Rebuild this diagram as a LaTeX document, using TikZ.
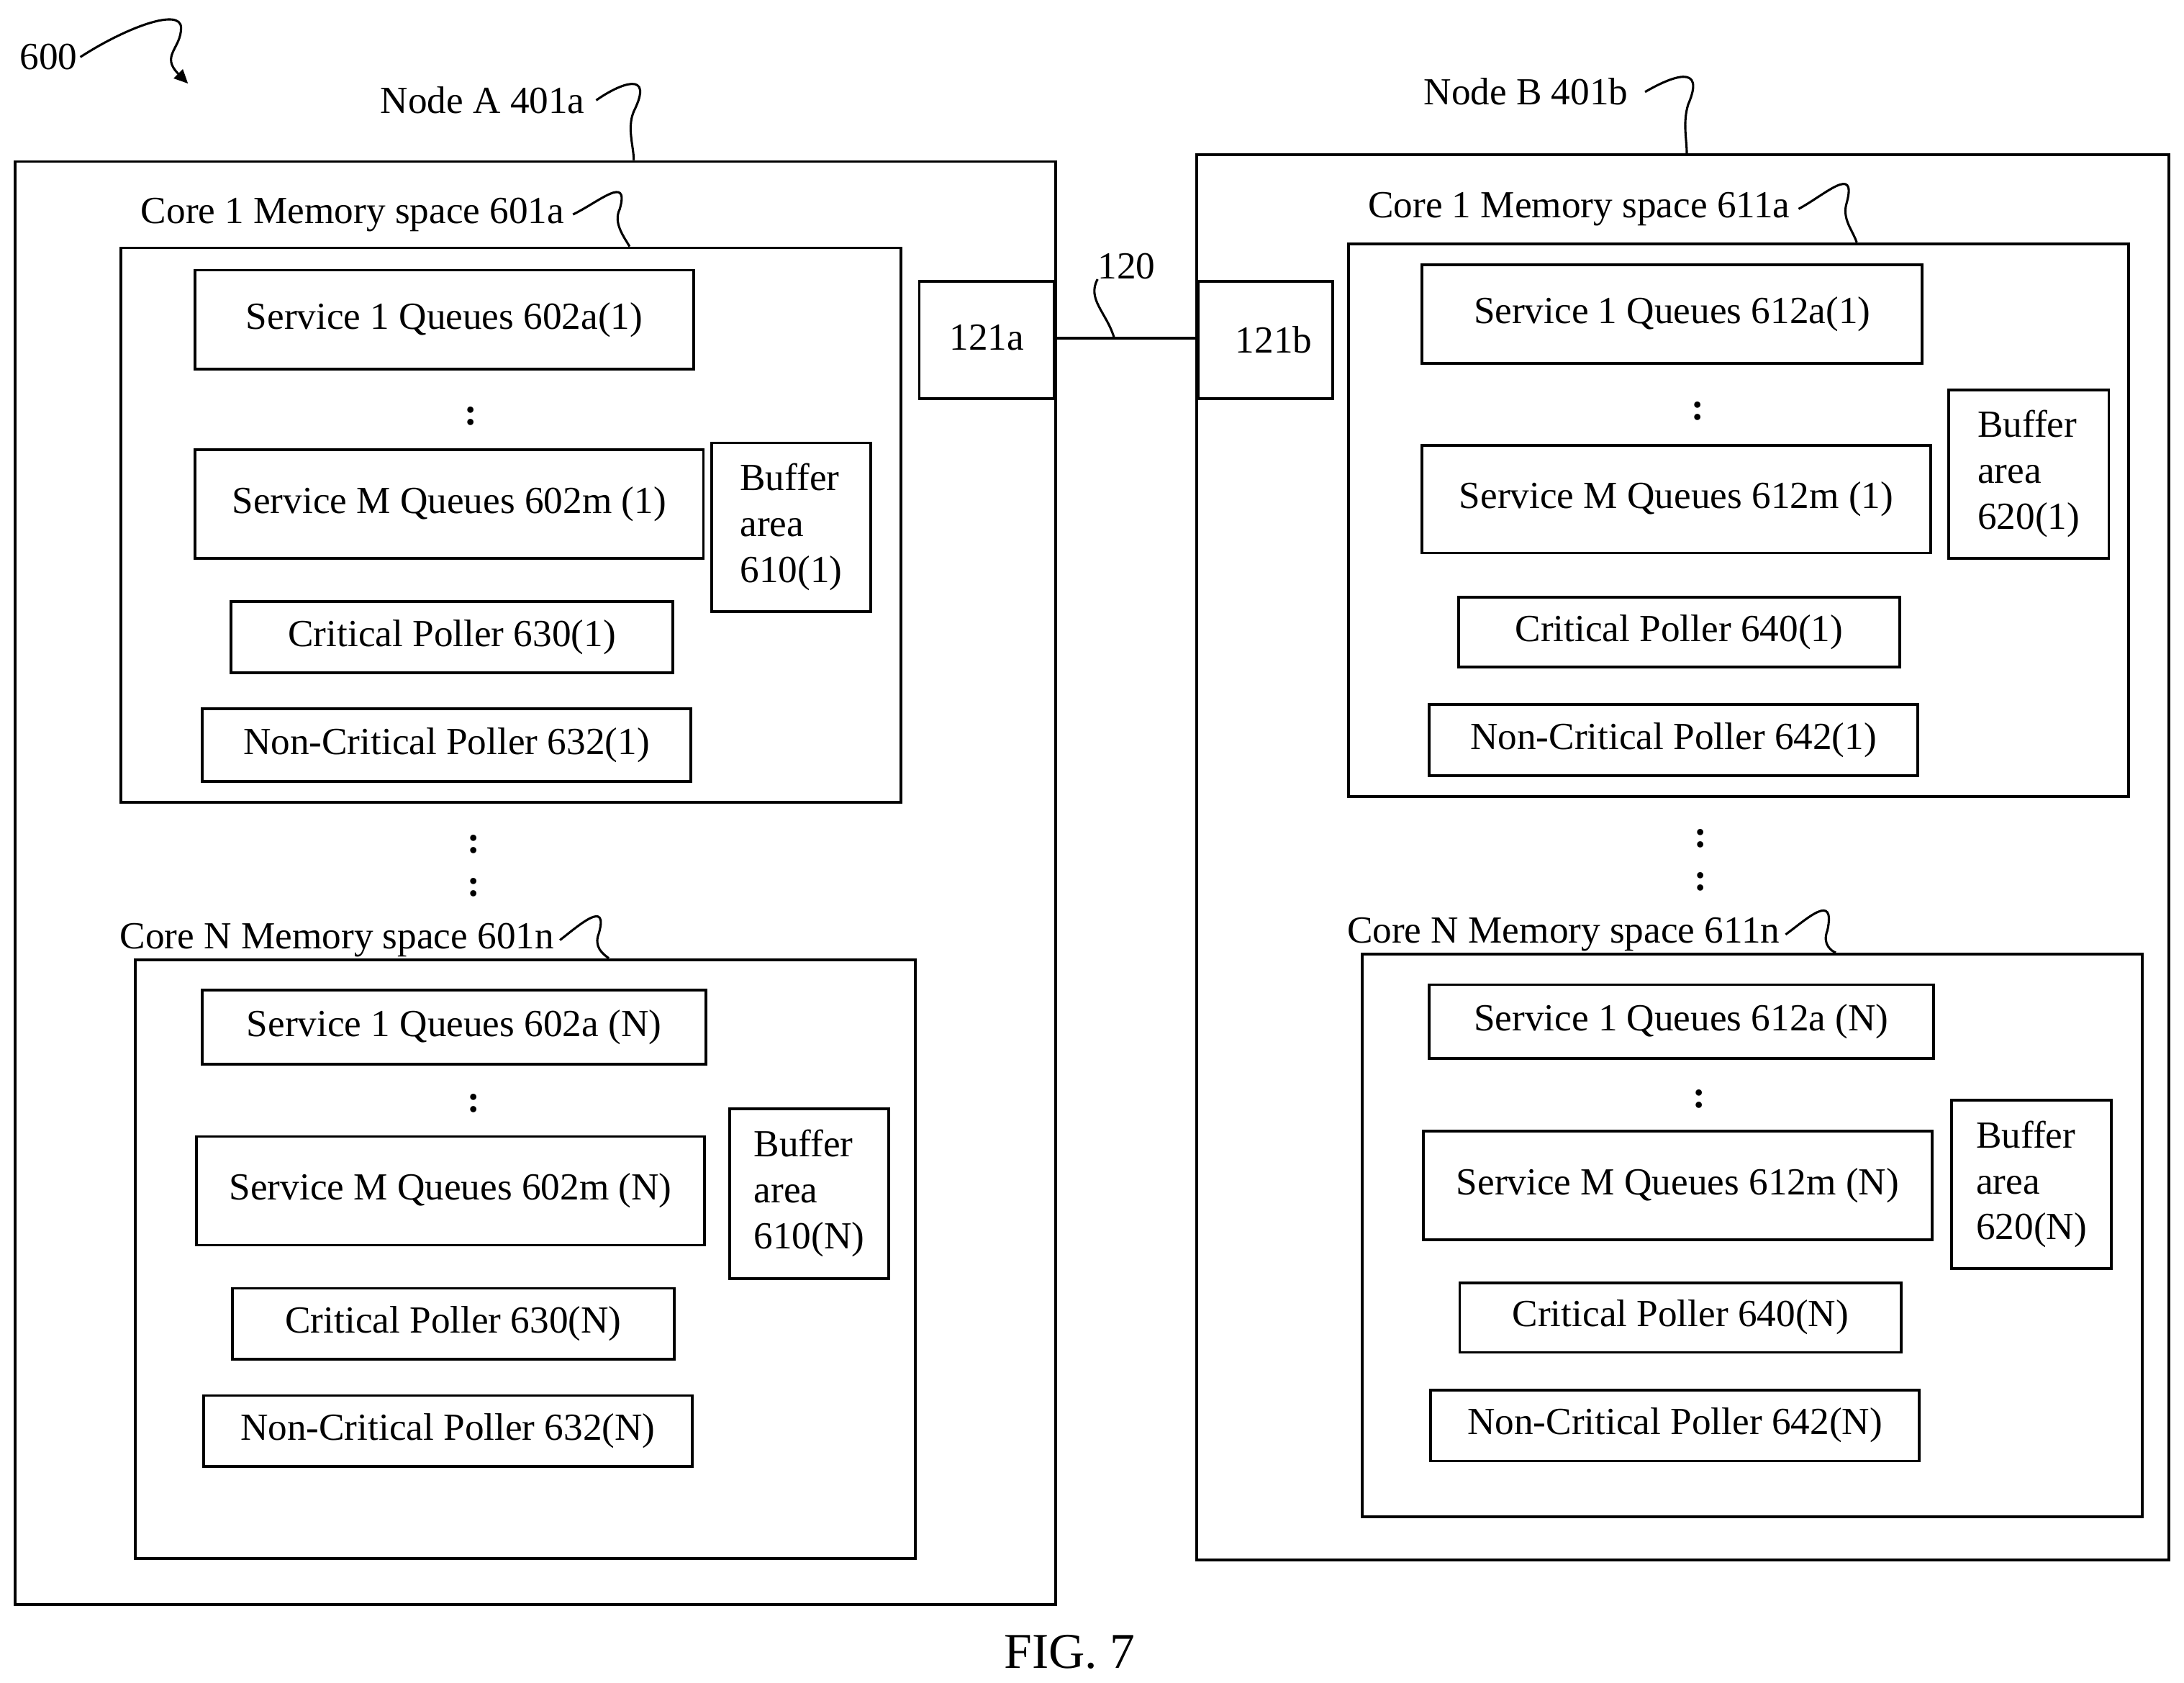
\documentclass[tikz,border=0pt]{standalone}
\usepackage{fontspec}
\setmainfont{Liberation Serif}
\usetikzlibrary{arrows.meta}
\begin{document}
\newcommand{\bx}[6]{\node[box,minimum width={(#4-#2)*1pt},minimum height={(#5-#3)*1pt}] (#1) at ({(#2+#4)/2*1pt},{-(#3+#5)/2*1pt}) {\raisebox{-3pt}{#6}};}
\newcommand{\lb}[4]{\node[lbl] (#1) at (#2pt,-#3pt) {#4};}
\newcommand{\dt}[3]{\node[lbl,anchor=center,font=\fontsize{27.5}{32}\selectfont\bfseries] (#1) at (#2pt,-#3pt) {:};}
\begin{tikzpicture}[x=1pt,y=1pt,
  box/.style={draw,line width=2pt,inner sep=0pt,font=\fontsize{27.5}{33}\selectfont},
  lbl/.style={anchor=west,inner sep=0pt,font=\fontsize{27.5}{33}\selectfont},
  sq/.style={line width=1.6pt}]
\useasboundingbox (0,0) rectangle (1568,-1208);
% Node A
\node[draw,line width=2pt,minimum width=747pt,minimum height=1036pt] (na) at (384.5,-634) {};
\node[draw,line width=2pt,minimum width=560pt,minimum height=398pt] (ca1) at (367,-377) {};
\bx{a1}{140}{194}{498}{265}{Service 1 Queues 602a(1)}
\dt{d1}{338}{299}
\bx{a2}{140}{323}{505}{401}{Service M Queues 602m (1)}
\bx{a3}{511}{318}{625}{439}{\begin{tabular}{@{}l@{}}Buffer\\area\\610(1)\end{tabular}}
\bx{a4}{166}{432}{483}{483}{Critical Poller 630(1)}
\bx{a5}{145}{509}{496}{561}{Non-Critical Poller 632(1)}
\dt{d2}{340}{606}\dt{d3}{340}{637}
\node[draw,line width=2pt,minimum width=560pt,minimum height=430pt] (can) at (377,-904) {};
\bx{b1}{145}{711}{507}{764}{Service 1 Queues 602a (N)}
\dt{d4}{340}{792}
\bx{b2}{141}{816}{506}{894}{Service M Queues 602m (N)}
\bx{b3}{524}{796}{638}{918}{\begin{tabular}{@{}l@{}}Buffer\\area\\610(N)\end{tabular}}
\bx{b4}{167}{925}{484}{976}{Critical Poller 630(N)}
\bx{b5}{146}{1002}{497}{1053}{Non-Critical Poller 632(N)}
% ports
\node[draw,line width=2pt,minimum width=97pt,minimum height=84pt,font=\fontsize{27.5}{33}\selectfont] (pa) at (708.5,-244) {\raisebox{4pt}{121a}};
\node[draw,line width=2pt,minimum width=97pt,minimum height=84pt,font=\fontsize{27.5}{33}\selectfont] (pb) at (908.5,-244) {\raisebox{0pt}{\hspace*{12pt}121b}};
\draw[line width=2pt] (pa.east |- 0,-243) -- (pb.west |- 0,-243);
\lb{l120}{788}{191}{120}
\coordinate (c120) at (800,-243);
\draw[sq] (l120.south west) .. controls (780,-215) and (795,-225) .. (c120);
% Node B
\node[draw,line width=2pt,minimum width=698pt,minimum height=1009pt] (nb) at (1208,-615.5) {};
\node[draw,line width=2pt,minimum width=560pt,minimum height=397pt] (cb1) at (1248,-373.5) {};
\bx{e1}{1021}{190}{1380}{261}{Service 1 Queues 612a(1)}
\dt{d5}{1219}{295}
\bx{e2}{1021}{320}{1386}{397}{Service M Queues 612m (1)}
\bx{e3}{1399}{280}{1514}{401}{\begin{tabular}{@{}l@{}}Buffer\\area\\620(1)\end{tabular}}
\bx{e4}{1047}{429}{1364}{479}{Critical Poller 640(1)}
\bx{e5}{1026}{506}{1377}{557}{Non-Critical Poller 642(1)}
\dt{d6}{1221}{602}\dt{d7}{1221}{633}
\node[draw,line width=2pt,minimum width=560pt,minimum height=404pt] (cbn) at (1258,-887) {};
\bx{f1}{1026}{707}{1388}{760}{Service 1 Queues 612a (N)}
\dt{d8}{1220}{789}
\bx{f2}{1022}{812}{1387}{890}{Service M Queues 612m (N)}
\bx{f3}{1401}{790}{1516}{911}{\begin{tabular}{@{}l@{}}Buffer\\area\\620(N)\end{tabular}}
\bx{f4}{1048}{921}{1365}{971}{Critical Poller 640(N)}
\bx{f5}{1027}{998}{1378}{1049}{Non-Critical Poller 642(N)}
% labels
\lb{lna}{273}{72}{Node A 401a}
\lb{lnb}{1022}{66}{Node B 401b}
\lb{lca1}{101}{154}{Core 1 Memory space 601a}
\lb{lcan}{86}{675}{Core N Memory space 601n}
\lb{lcb1}{982}{150}{Core 1 Memory space 611a}
\lb{lcbn}{967}{671}{Core N Memory space 611n}
\lb{l600}{14}{41}{600}
\node[font=\fontsize{36}{40}\selectfont] (fig) at (768,-1186) {FIG. 7};
% squiggles
\draw[sq] (lna.east)++(8,0) .. controls (445,-60) and (470,-50) .. (455,-80) .. controls (450,-92) and (455,-105) .. (na.north -| 455,0);
\draw[sq] (lnb.east)++(12,0) .. controls (1200,-55) and (1225,-45) .. (1212,-75) .. controls (1208,-88) and (1211,-100) .. (nb.north -| 1211,0);
\draw[sq] (lca1.east)++(6,0) .. controls (430,-145) and (452,-125) .. (445,-150) .. controls (440,-160) and (448,-170) .. (ca1.north -| 452,0);
\draw[sq] (lcan.east)++(4,0) .. controls (415,-665) and (437,-645) .. (430,-670) .. controls (426,-680) and (433,-685) .. (can.north -| 437,0);
\draw[sq] (lcb1.east)++(6,0) .. controls (1310,-140) and (1333,-118) .. (1326,-145) .. controls (1322,-157) and (1330,-165) .. (cb1.north -| 1333,0);
\draw[sq] (lcbn.east)++(4,0) .. controls (1297,-660) and (1318,-640) .. (1312,-668) .. controls (1308,-678) and (1315,-683) .. (cbn.north -| 1318,0);
\draw[sq,-{Triangle[length=10pt,width=9pt]}] (l600.east)++(2,0) .. controls (90,-20) and (130,-5) .. (130,-20) .. controls (130,-35) and (115,-40) .. (135,-60);
\end{tikzpicture}
\end{document}
